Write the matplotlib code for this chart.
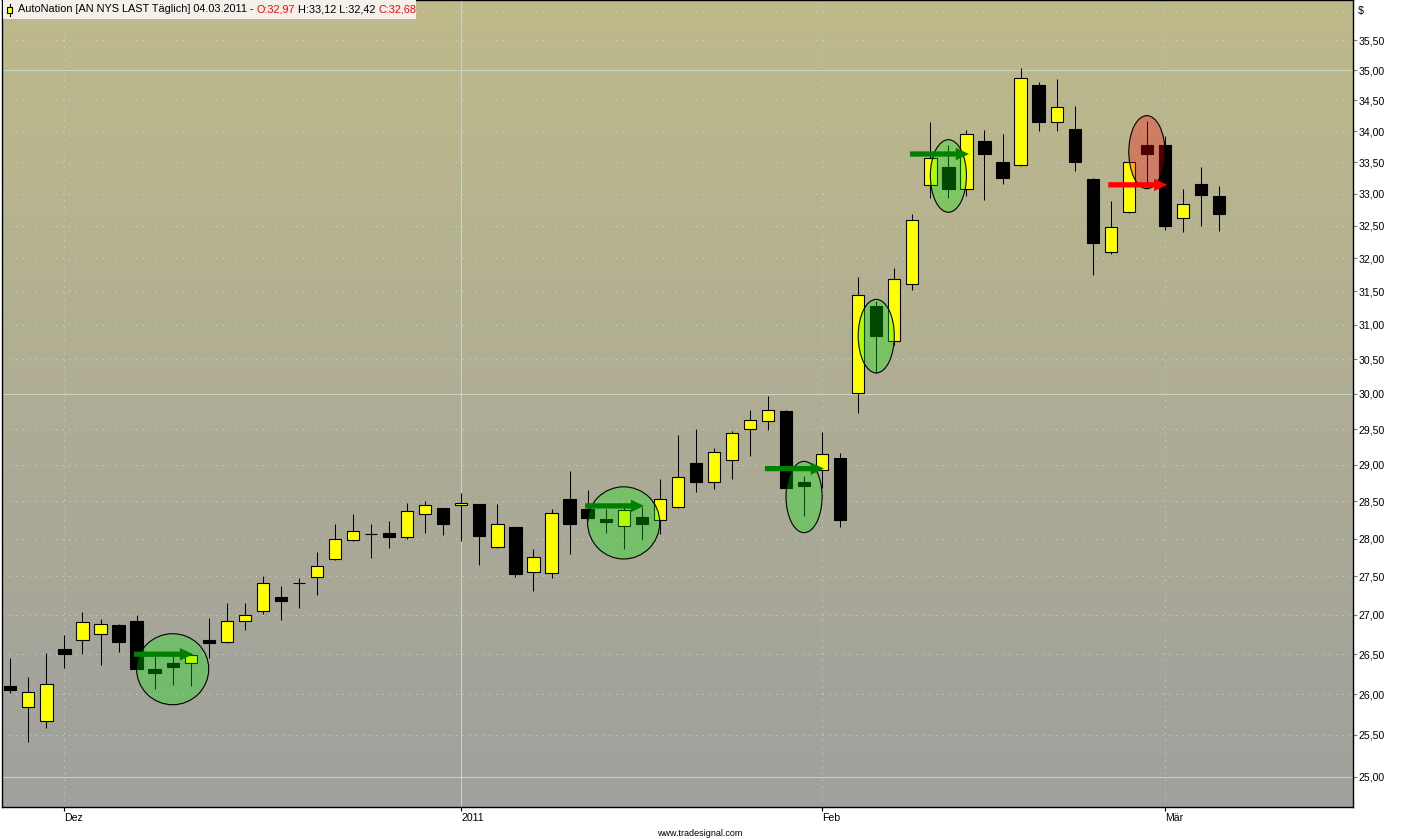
import matplotlib
matplotlib.use("Agg")
import matplotlib.pyplot as plt
import numpy as np
import pandas as pd
from matplotlib.patches import Ellipse, Rectangle
from matplotlib.ticker import FixedLocator, FuncFormatter, NullLocator

plt.rcParams["font.family"] = ["Liberation Sans", "DejaVu Sans"]

# trading days shown (US holidays skipped)
holidays = ["2010-12-24", "2011-01-17", "2011-02-21"]
dates = pd.bdate_range("2010-11-26", "2011-03-04", freq="C", holidays=holidays)

opens = [26.10, 25.84, 25.67, 26.56, 26.68, 26.76, 26.87, 26.92, 26.31, 26.39,
         26.39, 26.68, 26.65, 26.92, 27.05, 27.23, 27.41, 27.49, 27.73, 27.98,
         28.06, 28.08, 28.02, 28.33, 28.41, 28.45, 28.46, 27.89, 28.15, 27.56,
         27.55, 28.53, 28.40, 28.26, 28.17, 28.29, 28.25, 28.42, 29.03, 28.76,
         29.07, 29.50, 29.61, 29.76, 28.76, 28.93, 29.09, 30.01, 31.28, 30.76,
         31.61, 33.14, 33.42, 33.08, 33.84, 33.51, 33.45, 34.76, 34.14, 34.04,
         33.24, 32.09, 32.72, 33.78, 33.78, 32.62, 33.16, 32.97]
highs = [26.45, 26.22, 26.52, 26.74, 27.04, 26.95, 26.88, 27.00, 26.48, 26.53,
         26.52, 26.96, 27.16, 27.15, 27.50, 27.37, 27.48, 27.82, 28.19, 28.33,
         28.20, 28.24, 28.48, 28.50, 28.41, 28.61, 28.47, 28.46, 28.15, 27.86,
         28.40, 28.91, 28.66, 28.40, 28.43, 28.43, 28.80, 29.41, 29.50, 29.24,
         29.48, 29.77, 29.97, 29.77, 28.85, 29.46, 29.16, 31.71, 31.35, 31.85,
         32.69, 34.14, 33.78, 34.01, 34.01, 33.96, 35.04, 34.80, 34.86, 34.40,
         33.25, 32.88, 33.55, 34.17, 33.92, 33.08, 33.42, 33.12]
lows = [26.02, 25.42, 25.59, 26.33, 26.50, 26.37, 26.53, 26.31, 26.07, 26.12,
        26.10, 26.45, 26.64, 26.81, 27.01, 26.93, 27.09, 27.26, 27.72, 27.97,
        27.74, 27.88, 27.99, 28.07, 28.05, 27.97, 27.65, 27.88, 27.49, 27.31,
        27.48, 27.79, 28.25, 28.08, 27.86, 27.98, 28.06, 28.41, 28.63, 28.67,
        28.80, 29.12, 29.49, 28.68, 28.30, 28.68, 28.15, 29.73, 30.30, 30.70,
        31.52, 32.94, 32.94, 32.97, 32.90, 33.15, 33.44, 34.00, 34.00, 33.36,
        31.74, 32.06, 32.70, 33.09, 32.44, 32.40, 32.49, 32.42]
closes = [26.05, 26.03, 26.13, 26.50, 26.91, 26.89, 26.66, 26.32, 26.27, 26.34,
          26.49, 26.64, 26.92, 27.00, 27.41, 27.18, 27.41, 27.64, 28.00, 28.10,
          28.06, 28.02, 28.37, 28.45, 28.19, 28.48, 28.03, 28.19, 27.53, 27.76,
          28.34, 28.19, 28.27, 28.22, 28.38, 28.20, 28.53, 28.83, 28.76, 29.18,
          29.45, 29.63, 29.77, 28.69, 28.71, 29.15, 28.25, 31.45, 30.84, 31.68,
          32.59, 33.56, 33.07, 33.95, 33.63, 33.25, 34.87, 34.14, 34.39, 33.50,
          32.23, 32.48, 33.51, 33.63, 32.49, 32.84, 32.98, 32.68]

month_labels = ["Dez", "2011", "Feb", "Mär"]
price_ticks = [25.0 + 0.5 * k for k in range(22)]

# marked patterns: bar index, upper / lower price, width in bars, colour
marks_x = [9, 34, 44, 48, 52, 63]
marks_top = [26.76, 28.70, 29.05, 31.38, 33.86, 34.25]
marks_bottom = [25.87, 27.73, 28.08, 30.30, 32.71, 33.08]
marks_width = [4, 4, 2, 2, 2, 2]
marks_color = ["green", "green", "green", "green", "green", "red"]

arrows_start = [6.86, 31.86, 41.83, 49.87, 60.86]
arrows_end = [10.13, 35.13, 45.10, 53.14, 64.13]
arrows_price = [26.50, 28.44, 28.95, 33.63, 33.14]
arrows_color = ["green", "green", "green", "green", "red"]

W, H = 1401, 839
fig = plt.figure(figsize=(W / 100, H / 100), dpi=100, facecolor="white")
pos = [2 / W, 1 - 807 / H, 1350.7 / W, 807 / H]

# gradient background
bg = fig.add_axes(pos, zorder=0)
grad = np.linspace(0, 1, 256)[:, None]
top_c = np.array([190, 186, 138]) / 255
bot_c = np.array([160, 160, 158]) / 255
img = top_c[None, None, :] * (1 - grad[:, :, None]) + bot_c[None, None, :] * grad[:, :, None]
bg.imshow(img, aspect="auto", extent=[0, 1, 0, 1])
bg.axis("off")

ax = fig.add_axes(pos, zorder=1)
ax.set_facecolor("none")
ax.set_yscale("log")
ax.set_xlim(-0.46, 74.41)
ax.set_ylim(24.64, 36.19)

# grid
grid_c = "#c4d6c0"
for p in price_ticks + [36.0]:
    if p in (25.0, 30.0, 35.0):
        ax.axhline(p, color=grid_c, lw=0.8, zorder=1)
    else:
        ax.axhline(p, color=grid_c, lw=0.8, ls=(0, (1, 5)), zorder=1)

month = dates.month
first_idx = [i for i in range(1, len(dates)) if month[i] != month[i - 1]]
for i, lab in zip(first_idx, month_labels):
    if lab == "2011":
        ax.axvline(i, color=grid_c, lw=0.8, zorder=1)
    else:
        ax.axvline(i, color=grid_c, lw=0.8, ls=(0, (1, 5)), zorder=1)

# candles
x = np.arange(len(opens))
o = np.array(opens)
c = np.array(closes)
up = c >= o
ax.vlines(x, lows, highs, color="black", lw=0.75, zorder=2)
ax.bar(x[up], (c - o)[up], bottom=o[up], width=0.68, color="#ffff00",
       edgecolor="black", linewidth=0.8, zorder=3)
ax.bar(x[~up], (o - c)[~up], bottom=c[~up], width=0.68, color="black",
       edgecolor="black", linewidth=0.8, zorder=3)

# ellipses
for mx, mt, mb, mw, mc in zip(marks_x, marks_top, marks_bottom, marks_width, marks_color):
    fc = (0.0, 0.96, 0.0, 0.3) if mc == "green" else (1.0, 0.0, 0.0, 0.3)
    ax.add_patch(Ellipse((mx, (mt + mb) / 2), mw, mt - mb, facecolor=fc,
                         edgecolor="black", lw=0.8, zorder=4))

# arrows
for xs, xe, yp, col in zip(arrows_start, arrows_end, arrows_price, arrows_color):
    ax.annotate("", xy=(xe, yp), xytext=(xs, yp),
                arrowprops=dict(arrowstyle="simple,head_length=0.95,head_width=0.9,tail_width=0.38",
                                mutation_scale=10, color=col, lw=0,
                                shrinkA=0, shrinkB=0), zorder=5)

# axes styling
for s in ax.spines.values():
    s.set_color("black")
    s.set_linewidth(1)
ax.yaxis.tick_right()
ax.yaxis.set_major_locator(FixedLocator(price_ticks))
ax.yaxis.set_minor_locator(NullLocator())
ax.yaxis.set_major_formatter(FuncFormatter(lambda v, _: f"{v:.2f}".replace(".", ",")))
ax.tick_params(axis="y", length=3, color="#808080", pad=1, labelsize=7.6)

ax.set_xticks(first_idx)
ax.set_xticklabels(month_labels)
ax.tick_params(axis="x", length=3, color="black", pad=1, labelsize=7.6)
for t in ax.get_xticklabels():
    t.set_horizontalalignment("left")

fig.text(1358 / W, 1 - 11 / H, "$", fontsize=7.6, va="center", ha="left")
fig.text(700 / W, 1 - 833 / H, "www.tradesignal.com", fontsize=6.5, ha="center", va="center")

# title box with small candle icon
fig.patches.append(Rectangle((3 / W, 1 - 19 / H), 413 / W, 19 / H, transform=fig.transFigure,
                             facecolor="#f3f1ea", edgecolor="none", zorder=5))
fig.lines.append(plt.Line2D([9.5 / W, 9.5 / W], [1 - 4 / H, 1 - 16 / H],
                            transform=fig.transFigure, color="black", lw=0.8, zorder=6))
fig.patches.append(Rectangle((7 / W, 1 - 13 / H), 5 / W, 6 / H, transform=fig.transFigure,
                             facecolor="#ffff00", edgecolor="black", lw=0.8, zorder=7))

pieces = [("AutoNation [AN NYS LAST Täglich] 04.03.2011 - ", "black"),
          ("O:32,97", "red"), (" H:33,12 L:32,42 ", "black"), ("C:32,68", "red")]

fig.canvas.draw()
r = fig.canvas.get_renderer()
xpos = 18
for txt, col in pieces:
    t = fig.text(xpos / W, 1 - 14 / H, txt, fontsize=7.85, color=col,
                 va="bottom", ha="left", zorder=8)
    xpos = t.get_window_extent(r).x1

fig.savefig("out.png", dpi=100, facecolor="white")
